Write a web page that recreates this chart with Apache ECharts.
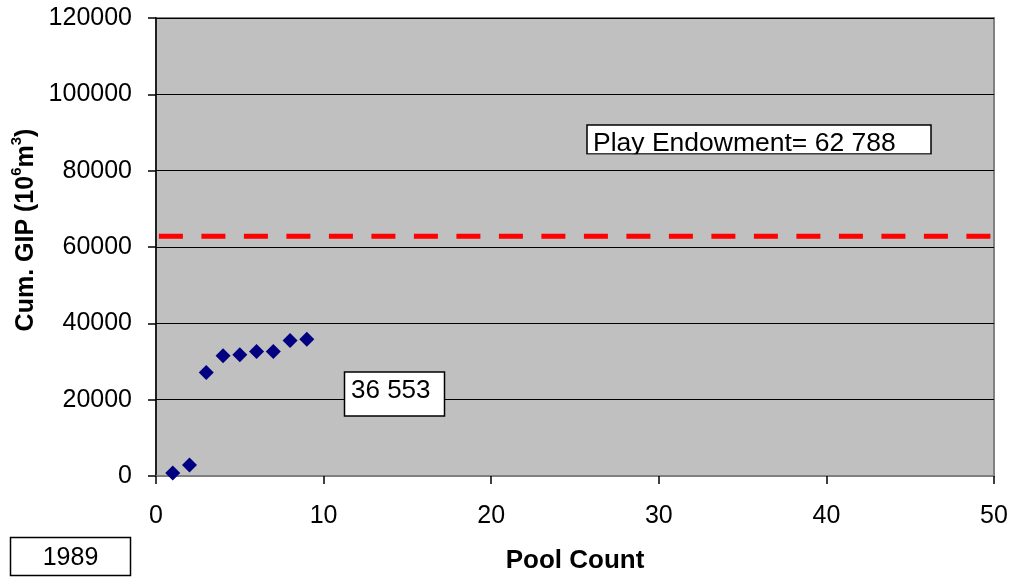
<!DOCTYPE html>
<html>
<head>
<meta charset="utf-8">
<script src="https://cdn.jsdelivr.net/npm/echarts@6/dist/echarts.min.js"></script>
<style>
html,body{margin:0;padding:0;background:#fff;}
#chart{width:1012px;height:580px;}
</style>
</head>
<body>
<div id="chart"></div>
<script>
// Data
var poolCount = [1, 2, 3, 4, 5, 6, 7, 8, 9];
var cumGIP = [800, 2900, 27100, 31500, 31800, 32600, 32600, 35500, 35800];
var endowmentX = [0, 50];
var endowmentValue = 62788;
var xTicks = [0, 10, 20, 30, 40, 50];
var yTicks = [0, 20000, 40000, 60000, 80000, 100000, 120000];
var endowmentLabel = 'Play Endowment= 62 788';
var lastLabel = '36 553';
var yearLabel = '1989';

var FONT = '"Liberation Sans", Arial, Helvetica, sans-serif';
var chart = echarts.init(document.getElementById('chart'), null, {renderer: 'canvas'});

var option = {
  animation: false,
  backgroundColor: '#ffffff',
  textStyle: {fontFamily: FONT},
  grid: {
    left: 156, right: 18, top: 18, bottom: 104,
    show: true, backgroundColor: '#C0C0C0',
    borderColor: '#808080', borderWidth: 2
  },
  xAxis: {
    type: 'value',
    min: xTicks[0], max: xTicks[xTicks.length - 1], interval: xTicks[1] - xTicks[0],
    name: 'Pool Count', nameLocation: 'middle', nameGap: 72,
    nameTextStyle: {fontFamily: FONT, fontSize: 26, fontWeight: 'bold', color: '#000'},
    axisLine: {show: true, onZero: false, lineStyle: {color: '#808080', width: 2}},
    axisTick: {show: true, inside: false, length: 8, lineStyle: {color: '#000', width: 1.5}},
    axisLabel: {fontFamily: FONT, fontSize: 25, color: '#000', margin: 28,
      formatter: function (v) { return String(v); }},
    splitLine: {show: false}
  },
  yAxis: {
    type: 'value',
    min: yTicks[0], max: yTicks[yTicks.length - 1], interval: yTicks[1] - yTicks[0],
    axisLine: {show: true, lineStyle: {color: '#000', width: 1.5}},
    axisTick: {show: true, inside: false, length: 8, lineStyle: {color: '#000', width: 1.5}},
    axisLabel: {fontFamily: FONT, fontSize: 25, color: '#000', margin: 24,
      formatter: function (v) { return String(v); }},
    splitLine: {show: true, lineStyle: {color: '#000', width: 1}}
  },
  series: [
    {
      type: 'line',
      data: endowmentX.map(function (x) { return [x, endowmentValue]; }),
      symbol: 'none',
      lineStyle: {color: '#FF0000', width: 5, type: [24, 18.5], dashOffset: 39.6, cap: 'butt'},
      z: 2,
      silent: true
    },
    {
      type: 'scatter',
      data: poolCount.map(function (x, i) { return [x, cumGIP[i]]; }),
      symbol: 'diamond',
      symbolSize: 15,
      itemStyle: {color: '#000080', opacity: 1},
      z: 3
    }
  ],
  graphic: [
    {
      type: 'text', x: 24, y: 230, rotation: Math.PI / 2,
      style: {
        text: '{a|Cum. GIP (10}{s|6}{a|m}{s|3}{a|)}',
        align: 'center', verticalAlign: 'middle',
        rich: {
          a: {fontFamily: FONT, fontSize: 25, fontWeight: 'bold', fill: '#000', lineHeight: 29, verticalAlign: 'bottom'},
          s: {fontFamily: FONT, fontSize: 15, fontWeight: 'bold', fill: '#000', lineHeight: 15, verticalAlign: 'top'}
        }
      }
    },
    {
      type: 'rect', shape: {x: 587, y: 125, width: 344, height: 29}, z: 10,
      style: {fill: '#fff', stroke: '#000', lineWidth: 1.5}
    },
    {
      type: 'text', x: 593, y: 130, z: 11,
      style: {text: endowmentLabel, fontFamily: FONT, fontSize: 26.5, fill: '#000', align: 'left', verticalAlign: 'top'}
    },
    {
      type: 'rect', shape: {x: 586, y: 154.6, width: 346, height: 4}, z: 12,
      style: {fill: '#C0C0C0'}
    },
    {
      type: 'rect', shape: {x: 344.5, y: 372, width: 100, height: 44}, z: 10,
      style: {fill: '#fff', stroke: '#000', lineWidth: 1.5}
    },
    {
      type: 'text', x: 351, y: 378, z: 11,
      style: {text: lastLabel, fontFamily: FONT, fontSize: 26, fill: '#000', align: 'left', verticalAlign: 'top'}
    },
    {
      type: 'rect', shape: {x: 10.5, y: 537.5, width: 120, height: 38}, z: 10,
      style: {fill: '#fff', stroke: '#000', lineWidth: 1.5}
    },
    {
      type: 'text', x: 70.5, y: 558, z: 11,
      style: {text: yearLabel, fontFamily: FONT, fontSize: 25, fill: '#000', align: 'center', verticalAlign: 'middle'}
    }
  ]
};
chart.setOption(option);
</script>
</body>
</html>
